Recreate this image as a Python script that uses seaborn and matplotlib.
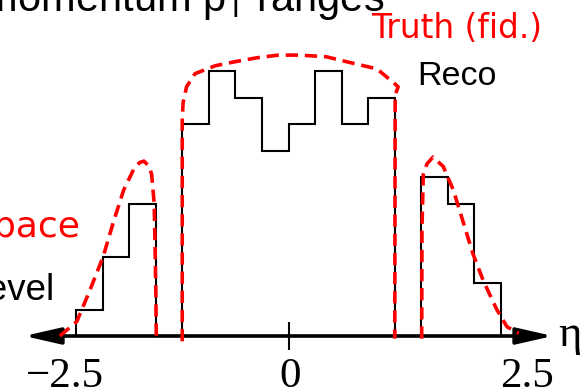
import numpy as np
import pandas as pd
import matplotlib
matplotlib.use("Agg")
import matplotlib.pyplot as plt
from matplotlib.transforms import ScaledTranslation
import seaborn as sns

# Reconstructed yield per eta bin: 16 bins of width 0.3125 over |eta| < 2.5,
# the two crack bins are empty.
bin_edges = np.linspace(-2.5, 2.5, 17)
reco_counts = [1, 3, 5, 0, 8, 10, 9, 7, 8, 10, 8, 9, 0, 6, 5, 2]

# Fiducial truth distribution, one piece per acceptance region
truth_fwd_neg_eta = [-2.69, -2.49, -2.34, -2.18, -2.06, -1.94, -1.82, -1.75,
                     -1.70, -1.64, -1.61, -1.58, -1.57, -1.56, -1.555]
truth_fwd_neg_val = [0.0, 0.55, 1.7, 3.0, 4.3, 5.5, 6.3, 6.55,
                     6.6, 6.4, 6.1, 5.0, 3.4, 1.5, -0.1]

truth_central_eta = [-1.25, -1.25, -1.24, -1.20, -1.10, -0.86, -0.63, -0.37,
                     -0.12, 0.12, 0.44, 0.71, 1.04, 1.24, 1.29, 1.255, 1.25]
truth_central_val = [-0.2, 8.2, 8.8, 9.4, 9.9, 10.2, 10.35, 10.5,
                     10.6, 10.6, 10.54, 10.33, 10.08, 9.55, 9.4, 9.1, -0.1]

truth_fwd_pos_eta = [1.567, 1.57, 1.586, 1.63, 1.70, 1.82, 1.94, 2.06,
                     2.17, 2.29, 2.45, 2.57, 2.71]
truth_fwd_pos_val = [-0.1, 4.0, 6.1, 6.5, 6.75, 6.4, 5.5, 4.25,
                     3.1, 2.1, 1.0, 0.35, 0.1]

tick_values = [-2.5, 0.0, 2.5]
tick_labels = ["\u22122.5", "0", "2.5"]

W, H = 583, 391
fig = plt.figure(figsize=(W / 100, H / 100), dpi=100)
ax = fig.add_axes([0, 0, 1, 1])

# Reco histogram: a step polygon with only its outline shown
centers = 0.5 * (bin_edges[:-1] + bin_edges[1:])
reco = pd.DataFrame({"eta": centers, "count": reco_counts})
n_before = len(ax.collections)
sns.histplot(data=reco, x="eta", weights="count", bins=list(bin_edges),
             element="step", fill=True, color="black", linewidth=1.5,
             ax=ax, zorder=3)
for coll in ax.collections[n_before:]:
    coll.set_alpha(None)
    coll.set_facecolor("none")
    coll.set_edgecolor("black")
    coll.set_linewidth(1.5)
    coll.set_joinstyle("miter")

# Truth curve pieces
truth = pd.concat([
    pd.DataFrame({"eta": truth_fwd_neg_eta, "val": truth_fwd_neg_val, "piece": 0}),
    pd.DataFrame({"eta": truth_central_eta, "val": truth_central_val, "piece": 1}),
    pd.DataFrame({"eta": truth_fwd_pos_eta, "val": truth_fwd_pos_val, "piece": 2}),
], ignore_index=True)
sns.lineplot(data=truth, x="eta", y="val", units="piece", estimator=None,
             sort=False, color="#ff0000", linewidth=2.6,
             linestyle=(0, (3.4, 1.9)), ax=ax, zorder=5)
ax.set_xlabel("")
ax.set_ylabel("")

ax.set_xlim(-288.5 / 85, (W - 288.5) / 85)
ax.set_ylim(-(H - 336) / 26.5, 336 / 26.5)
for s in ax.spines.values():
    s.set_visible(False)
ax.set_yticks([])
ax.spines["bottom"].set_position(("data", 0))
ax.set_xticks([0])
ax.tick_params(axis="x", direction="inout", length=20, width=1.5,
               labelbottom=False, color="black")

# eta axis with arrows at both ends
ax.annotate("", xy=(-3.11, 0), xytext=(3.11, 0),
            arrowprops=dict(arrowstyle="<|-|>,head_length=2.2,head_width=0.5",
                            lw=2.6, color="black", shrinkA=0, shrinkB=0),
            zorder=4)

# tick labels under the axis
label_shift_px = [-11, 2, 26]
for v, lab, dx in zip(tick_values, tick_labels, label_shift_px):
    tr = ax.transData + ScaledTranslation(dx / 100, 0, fig.dpi_scale_trans)
    ax.text(v, -1.93, lab, transform=tr, ha="center", va="baseline",
            fontsize=31, family="Liberation Serif", color="black")


def fx(x):
    return x / W


def fy(y):
    return 1 - y / H


plt.rcParams["mathtext.fontset"] = "custom"
plt.rcParams["mathtext.rm"] = "Liberation Sans"

fig.text(fx(558), fy(346), "\u03b7", fontsize=32, family="Liberation Serif",
         ha="left", va="baseline", color="black")
fig.text(fx(384), fy(11), r"in transverse momentum p$_\mathrm{T}$ ranges",
         fontsize=30, family="Liberation Sans", ha="right", va="baseline",
         color="black")
fig.text(fx(371), fy(38), "Truth (fid.)", fontsize=23.6, family="DejaVu Sans",
         ha="left", va="baseline", color="#ff0000")
fig.text(fx(417), fy(85), "Reco", fontsize=24.5, family="Liberation Sans",
         ha="left", va="baseline", color="black")
fig.text(fx(80), fy(237), "fiducial phase space", fontsize=26,
         family="DejaVu Sans", ha="right", va="baseline", color="#ff0000")
fig.text(fx(54), fy(300), "particle level", fontsize=26.5,
         family="Liberation Sans", ha="right", va="baseline", color="black")

fig.savefig("out.png", dpi=100)
